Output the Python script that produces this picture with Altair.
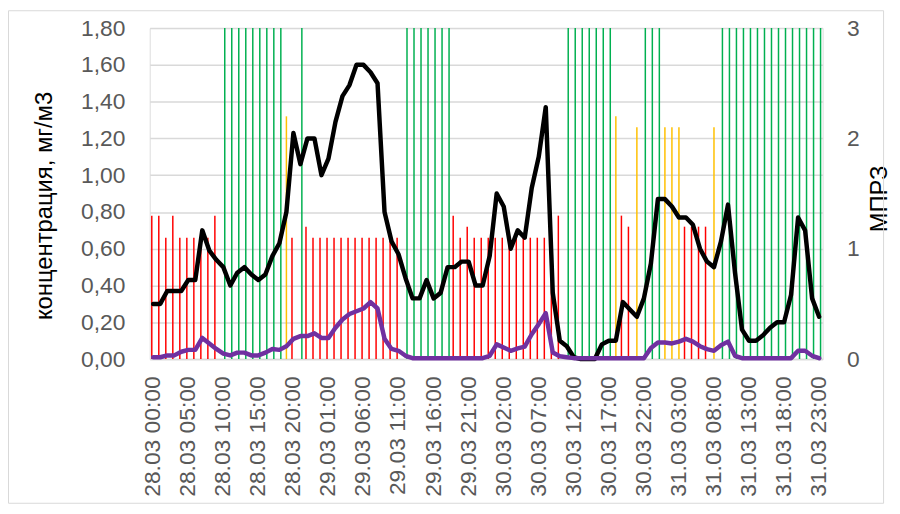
import altair as alt
import pandas as pd

FONT = "Liberation Sans"

days = ["28.03", "29.03", "30.03", "31.03"]
hours = [f"{d} {h:02d}:00" for d in days for h in range(24)]
tick_labels = hours[::5]

# концентрация, мг/м3 (black line), hourly 28.03 00:00 .. 31.03 23:00
conc_black = [
    0.30, 0.30, 0.37, 0.37, 0.37, 0.43, 0.43, 0.70, 0.59, 0.54,
    0.50, 0.40, 0.47, 0.50, 0.46, 0.43, 0.46, 0.56, 0.63, 0.80,
    1.23, 1.06, 1.20, 1.20, 1.00, 1.09, 1.29, 1.43, 1.49, 1.60,
    1.60, 1.56, 1.50, 0.80, 0.64, 0.57, 0.44, 0.33, 0.33, 0.43,
    0.33, 0.36, 0.50, 0.50, 0.53, 0.53, 0.40, 0.40, 0.56, 0.90,
    0.83, 0.60, 0.70, 0.66, 0.93, 1.10, 1.37, 0.36, 0.10, 0.07,
    0.01, 0.00, 0.00, 0.00, 0.08, 0.10, 0.10, 0.31, 0.27, 0.23,
    0.33, 0.52, 0.87, 0.87, 0.83, 0.77, 0.77, 0.73, 0.60, 0.53,
    0.50, 0.64, 0.84, 0.47, 0.16, 0.10, 0.10, 0.13, 0.17, 0.20,
    0.20, 0.35, 0.77, 0.70, 0.33, 0.23,
]

# second pollutant (purple line)
conc_purple = [
    0.010, 0.010, 0.020, 0.020, 0.040, 0.050, 0.050, 0.115, 0.085, 0.055,
    0.030, 0.020, 0.035, 0.035, 0.020, 0.020, 0.035, 0.055, 0.050, 0.070,
    0.110, 0.125, 0.125, 0.140, 0.115, 0.115, 0.170, 0.215, 0.245, 0.260,
    0.275, 0.310, 0.275, 0.110, 0.055, 0.045, 0.018, 0.005, 0.005, 0.005,
    0.005, 0.005, 0.005, 0.005, 0.005, 0.005, 0.005, 0.005, 0.018, 0.080,
    0.063, 0.045, 0.058, 0.068, 0.135, 0.190, 0.250, 0.036, 0.015, 0.010,
    0.005, 0.005, 0.005, 0.005, 0.005, 0.005, 0.005, 0.005, 0.005, 0.005,
    0.005, 0.060, 0.090, 0.090, 0.085, 0.095, 0.110, 0.095, 0.070, 0.054,
    0.045, 0.075, 0.095, 0.018, 0.005, 0.005, 0.005, 0.005, 0.005, 0.005,
    0.005, 0.005, 0.045, 0.045, 0.018, 0.005,
]

# МПРЗ columns (right axis)
mprz_value = [
    1.3, 1.3, 1.1, 1.3, 1.1, 1.1, 1.1, 1.1, 1.1, 1.3,
    3, 3, 3, 3, 3, 3, 3, 3, 3, 2.2,
    1.1, 3, 1.2, 1.1, 1.1, 1.1, 1.1, 1.1, 1.1, 1.1,
    1.1, 1.1, 1.1, 1.1, 1.1, 1.1, 3, 3, 3, 3,
    3, 3, 3, 1.3, 1.1, 1.2, 1.1, 1.1, 1.1, 1.1,
    1.1, 1.1, 1.1, 1.1, 1.1, 1.1, 1.1, 1.1, 1.3, 3,
    3, 3, 3, 3, 3, 3, 2.2, 1.3, 1.2, 2.1,
    3, 3, 3, 2.1, 2.1, 2.1, 1.2, 1.2, 1.2, 1.2,
    2.1, 3, 3, 3, 3, 3, 3, 3, 3, 3,
    3, 3, 3, 3, 3, 3,
]
mprz_class = [
    "red", "red", "red", "red", "red", "red", "red", "red", "red", "red",
    "green", "green", "green", "green", "green", "green", "green", "green", "green", "yellow",
    "red", "green", "red", "red", "red", "red", "red", "red", "red", "red",
    "red", "red", "red", "red", "red", "red", "green", "green", "green", "green",
    "green", "green", "green", "red", "red", "red", "red", "red", "red", "red",
    "red", "red", "red", "red", "red", "red", "red", "red", "red", "green",
    "green", "green", "green", "green", "green", "green", "yellow", "red", "red", "yellow",
    "green", "green", "green", "yellow", "yellow", "yellow", "red", "red", "red", "red",
    "yellow", "green", "green", "green", "green", "green", "green", "green", "green", "green",
    "green", "green", "green", "green", "green", "green",
]

df_lines = pd.DataFrame({
    "t": hours + hours,
    "v": conc_black + conc_purple,
    "s": ["black"] * len(hours) + ["purple"] * len(hours),
})
df_bars = pd.DataFrame({"t": hours, "v": mprz_value, "s": mprz_class})

color_scale = alt.Scale(
    domain=["red", "yellow", "green", "black", "purple"],
    range=["#ff0000", "#ffc000", "#00b050", "#000000", "#7030a0"],
)

x_enc = alt.X(
    "t:N",
    sort=hours,
    scale=alt.Scale(domain=hours, paddingInner=0, paddingOuter=0),
    axis=alt.Axis(
        values=tick_labels, title=None, labelAngle=270, labelAlign="right",
        labelBaseline="middle", labelPadding=17, ticks=False,
        domainColor="#d9d9d9", domainWidth=1.5, labelFontSize=23,
        labelColor="#595959", labelFont=FONT, grid=False,
    ),
)

bars = alt.Chart(df_bars).mark_bar(size=1.5).encode(
    x=x_enc,
    xOffset=alt.XOffset(
        "s:N",
        scale=alt.Scale(domain=["red", "yellow", "green"], paddingInner=0, paddingOuter=0.94),
    ),
    y=alt.Y(
        "v:Q",
        scale=alt.Scale(domain=[0, 3], nice=False),
        axis=alt.Axis(
            orient="right", values=[0, 1, 2, 3], format="d", title="МПРЗ",
            grid=False, domain=False, ticks=False, labelPadding=24,
            labelFontSize=23, labelColor="#595959", labelFont=FONT,
            titleFontSize=24, titleFont=FONT, titleColor="#000000",
            titleFontWeight="normal", titleAngle=270, titleX=57, titleY=172,
            titleAlign="center", titleBaseline="middle",
        ),
    ),
    color=alt.Color("s:N", scale=color_scale, legend=None),
)

lines = alt.Chart(df_lines).mark_line(
    strokeWidth=4.5, strokeJoin="round", strokeCap="round"
).encode(
    x=x_enc,
    y=alt.Y(
        "v:Q",
        scale=alt.Scale(domain=[0, 1.8], nice=False),
        axis=alt.Axis(
            orient="left", values=[0, 0.2, 0.4, 0.6, 0.8, 1.0, 1.2, 1.4, 1.6, 1.8],
            labelExpr="replace(format(datum.value, '.2f'), '.', ',')",
            grid=True, gridColor="#d9d9d9", gridWidth=1.5, domain=False, ticks=False,
            labelPadding=25, labelFontSize=23, labelColor="#595959", labelFont=FONT,
            title="концентрация, мг/м3", titleFontSize=24, titleFont=FONT,
            titleColor="#000000", titleFontWeight="normal", titleAngle=270,
            titleX=-106, titleY=179, titleAlign="center", titleBaseline="middle",
        ),
    ),
    color=alt.Color("s:N", scale=color_scale, legend=None),
)

frame = alt.Chart(pd.DataFrame({"k": [0]})).mark_rect(
    fillOpacity=0, stroke="#d9d9d9", strokeWidth=1
).encode(
    x=alt.value(-142.5), x2=alt.value(740.5), y=alt.value(-17.5), y2=alt.value(479.5)
)

chart = (
    alt.layer(bars, lines, frame)
    .resolve_scale(y="independent")
    .properties(
        width=679, height=334,
        autosize=alt.AutoSizeParams(type="none"),
        padding={"left": 143, "top": 18, "right": 70, "bottom": 146},
    )
    .configure_view(stroke=None)
    .configure(font=FONT)
)

chart.save("out.html", embed_options={"renderer": "svg", "actions": False})
